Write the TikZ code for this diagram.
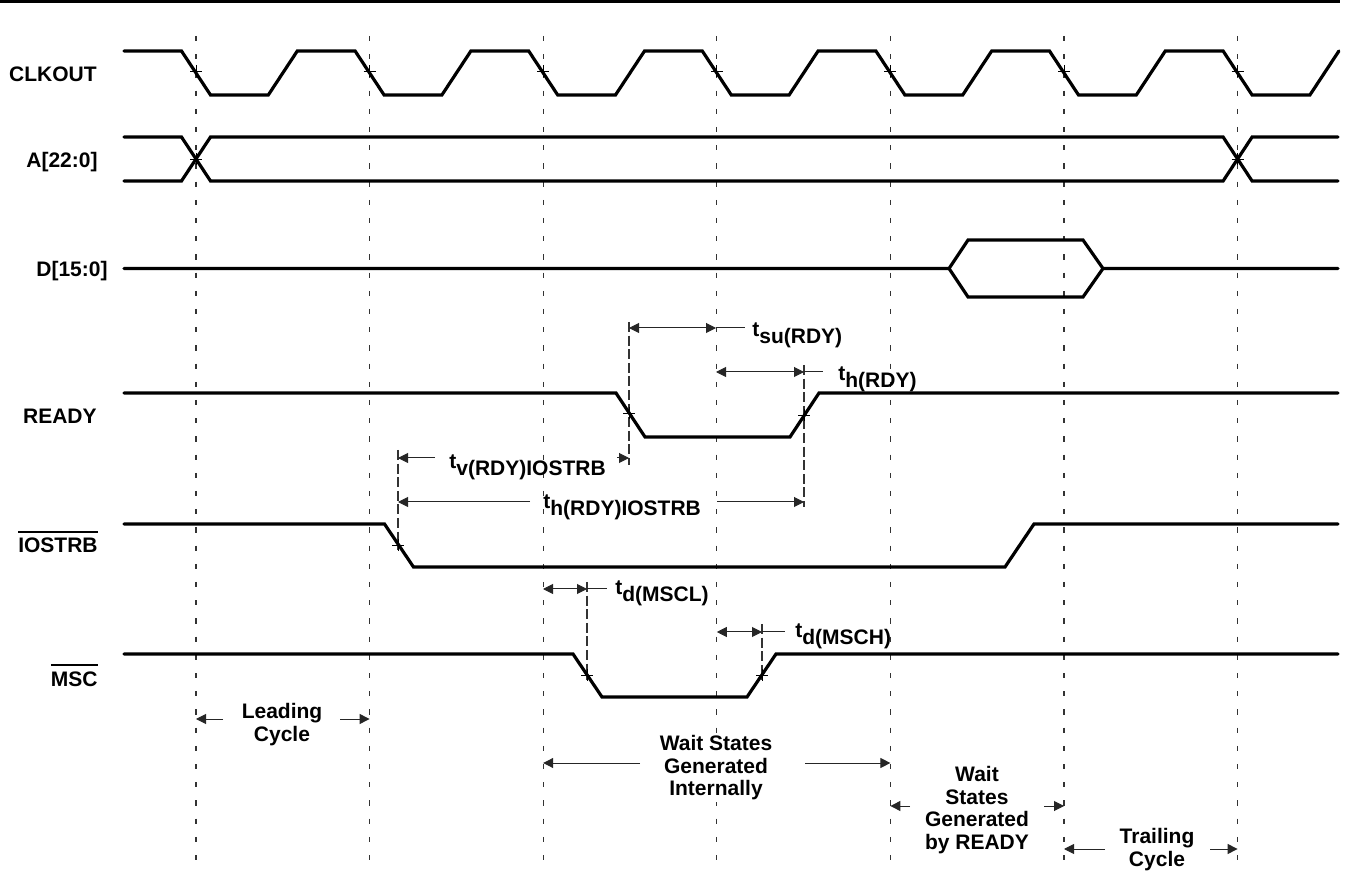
\documentclass[tikz,border=0pt]{standalone}
\usepackage{fontspec}
\setmainfont{Liberation Sans}
\usetikzlibrary{arrows.meta}
\newcommand\tlab[1]{\raisebox{3.5pt}{t}#1}
\newcommand\ovl[1]{\vbox{\hrule height 1pt depth 0pt\kern 2.6pt\hbox{#1}}}
\tikzset{
  sig/.style={line width=1.6pt, line cap=round},
  gridline/.style={black!80, line width=0.6pt, dash pattern=on 2.6pt off 6.5pt},
  ldash/.style={black!80, line width=0.6pt, dash pattern=on 5pt off 1.8pt},
  tickmark/.style={line width=0.45pt},
  lead/.style={line width=0.5pt, black!85},
  dimone/.style={lead, -{Triangle[length=5pt,width=5pt]}},
  dimtwo/.style={lead, {Triangle[length=5pt,width=5pt]}-{Triangle[length=5pt,width=5pt]}},
  lbl/.style={font=\bfseries\fontsize{10.5}{11.3}\selectfont, inner sep=0pt},
  tlbl/.style={lbl, anchor=base west},
  blbl/.style={lbl, anchor=north, align=center, fill=white, inner sep=1pt},
  siglbl/.style={lbl, anchor=base east}
}
\begin{document}
\begin{tikzpicture}[x=0.5pt,y=-0.5pt]
\useasboundingbox (0,0) rectangle (1345,871);
% top rule
\fill (0,0) rectangle (1340,3.5);

% clock grid lines
\foreach \x in {196,369.6,543.2,716.8,890.4,1064,1237.6}
  \draw[gridline] (\x,36) -- (\x,866);

% long-dashed reference lines
\draw[ldash] (629,322) -- (629,465);
\draw[ldash] (804,365) -- (804,507);
\draw[ldash] (398,450) -- (398,550);
\draw[ldash] (587,582) -- (587,680);
\draw[ldash] (762,624) -- (762,680);

% signal names
\node[siglbl] (lclk) at (97,82) {CLKOUT};
\node[siglbl] (laddr) at (98,168) {A[22:0]};
\node[siglbl] (ldata) at (108,277) {D[15:0]};
\node[siglbl] (lrdy) at (97,424) {READY};
\node[siglbl] (lio) at (98,553) {\ovl{IOSTRB}};
\node[siglbl] (lmsc) at (98,686) {\ovl{MSC}};

% CLKOUT
\draw[sig] (124,51) -- (181.5,51) -- (210.5,95) -- (268.3,95) -- (297.3,51)
  -- (355.1,51) -- (384.1,95) -- (441.9,95) -- (470.9,51)
  -- (528.7,51) -- (557.7,95) -- (615.5,95) -- (644.5,51)
  -- (702.3,51) -- (731.3,95) -- (789.1,95) -- (818.1,51)
  -- (875.9,51) -- (904.9,95) -- (962.7,95) -- (991.7,51)
  -- (1049.5,51) -- (1078.5,95) -- (1136.3,95) -- (1165.3,51)
  -- (1223.1,51) -- (1252.1,95) -- (1309.9,95) -- (1338.9,51);

% A[22:0]
\draw[sig] (124,137) -- (181.5,137) -- (210.5,181) -- (1223.1,181) -- (1252.1,137) -- (1338,137);
\draw[sig] (124,181) -- (181.5,181) -- (210.5,137) -- (1223.1,137) -- (1252.1,181) -- (1338,181);

% D[15:0]
\draw[sig] (124,268.5) -- (949,268.5) -- (968,240) -- (1083,240) -- (1103,268.5) -- (1338,268.5);
\draw[sig] (949,268.5) -- (968,297) -- (1083,297) -- (1103,268.5);

% READY
\draw[sig] (124,393) -- (616,393) -- (645,437) -- (790,437) -- (819,393) -- (1338,393);

% IOSTRB
\draw[sig] (124,524) -- (384.5,524) -- (413.5,567) -- (1005,567) -- (1034,524) -- (1338,524);

% MSC
\draw[sig] (124,654) -- (573,654) -- (602,697) -- (747,697) -- (776,654) -- (1338,654);

% crossing marks
\foreach \x in {196,369.6,543.2,716.8,890.4,1064,1237.6}
  \draw[tickmark] (\x,71) +(-6,0) -- +(6,0) +(0,-6) -- +(0,6);
\foreach \p in {(196,159),(1237.6,159),(629,413),(804,415),(398,545),(587,675),(762,675)}
  \draw[tickmark] \p +(-6,0) -- +(6,0) +(0,-6) -- +(0,6);

% t_su(RDY)
\draw[dimtwo] (629,328) -- (716,328);
\draw[lead] (716,328) -- (745,328);
\node[tlbl] (tsu) at (752,344) {\tlab{su(RDY)}};
% t_h(RDY)
\draw[dimtwo] (716,372) -- (804,372);
\draw[lead] (804,372) -- (823,372);
\node[tlbl] (th) at (838,388) {\tlab{h(RDY)}};
% t_v(RDY)IOSTRB
\draw[dimone] (435,458) -- (398,458);
\draw[dimone] (617,458) -- (629,458);
\node[tlbl] (tv) at (449,476) {\tlab{v(RDY)IOSTRB}};
% t_h(RDY)IOSTRB
\draw[dimone] (530,502) -- (398,502);
\draw[dimone] (717,502) -- (804,502);
\node[tlbl] (thio) at (543,516) {\tlab{h(RDY)IOSTRB}};
% t_d(MSCL)
\draw[dimtwo] (543,589) -- (587,589);
\draw[lead] (587,589) -- (607,589);
\node[tlbl] (tdl) at (615,602) {\tlab{d(MSCL)}};
% t_d(MSCH)
\draw[dimtwo] (716.8,632) -- (762,632);
\draw[lead] (762,632) -- (785,632);
\node[tlbl] (tdh) at (795,645) {\tlab{d(MSCH)}};

% cycle annotations
\draw[dimone] (223,719) -- (196,719);
\draw[dimone] (340,719) -- (369.6,719);
\node[blbl] (lead) at (282,701) {Leading\\Cycle};

\draw[dimone] (640,763) -- (543.2,763);
\draw[dimone] (805,763) -- (890.4,763);
\node[blbl] (wint) at (716,733) {Wait States\\Generated\\Internally};

\draw[dimone] (910,806) -- (890.4,806);
\draw[dimone] (1044,806) -- (1064,806);
\node[blbl] (wrdy) at (977,764) {Wait\\States\\Generated\\by READY};

\draw[dimone] (1105,849) -- (1064,849);
\draw[dimone] (1210,849) -- (1237.6,849);
\node[blbl] (trail) at (1157,826) {Trailing\\Cycle};
\end{tikzpicture}
\end{document}
